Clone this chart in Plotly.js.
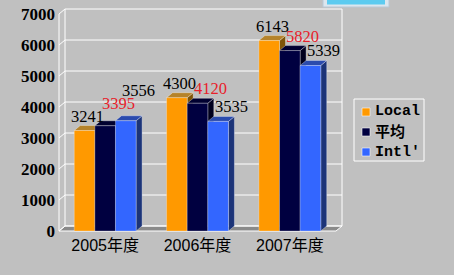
<!DOCTYPE html>
<html>
<head>
<meta charset="utf-8">
<script src="https://cdn.plot.ly/plotly-3.0.1.min.js"></script>
<style>html,body{margin:0;padding:0;background:#c0c0c0;}#chart{width:454px;height:275px;}</style>
</head>
<body>
<div id="chart"></div>
<script>
// ---- data ----
const categories = ['2005年度', '2006年度', '2007年度'];
const seriesNames = ['Local', '平均', "Intl'"];
const localValues = [3241, 4300, 6143];
const avgValues = [3395, 4120, 5820];
const intlValues = [3556, 3535, 5339];
const yTicks = [0, 1000, 2000, 3000, 4000, 5000, 6000, 7000];

// ---- styling ----
const seriesValues = [localValues, avgValues, intlValues];
const frontColors = ['#FF9900', '#000040', '#3366FF'];
const topColors = ['#B5832A', '#000030', '#2B4BAE'];
const sideColors = ['#7E5406', '#00001E', '#1C3478'];
const labelColors = ['#000000', '#E8202A', '#000000'];
const labelXShift = [3, 13, 13];

// geometry (pixels)
const W = 454, H = 275;
const frontL = 59, frontR = 336, frontTop = 14, frontBase = 231;
const depthX = 6, depthY = 5;
const plotL = 56, plotR = 345, plotT = 4, plotB = 234;
const yTop = yTicks[yTicks.length - 1];
const yPerPx = yTop / (frontBase - frontTop);
const nCat = categories.length;
const xPerPx = nCat / (frontR - frontL);
const xRange = [-0.5 - (frontL - plotL) * xPerPx, nCat - 0.5 + (plotR - frontR) * xPerPx];
const yRange = [-(plotB - frontBase) * yPerPx, (frontBase - plotT) * yPerPx];
const dxU = depthX * xPerPx, dyU = depthY * yPerPx;
const bargap = 0.33;
const barW = (1 - bargap) / seriesValues.length;
const px2pX = p => (p - plotL) / (plotR - plotL);
const px2pY = p => (plotB - p) / (plotB - plotT);

const traces = seriesValues.map((vals, s) => ({
  type: 'bar',
  name: seriesNames[s],
  x: categories.map((c, i) => i),
  y: vals,
  marker: {color: frontColors[s], line: {color: 'rgba(255,255,255,0.45)', width: 0.6}},
  hoverinfo: 'none',
  showlegend: false
}));

const shapes = [];
const wl = {color: '#FFFFFF', width: 1};
const xL0 = -0.5, xR0 = nCat - 0.5;
// floor
shapes.push({type: 'path', layer: 'below', xref: 'x', yref: 'y',
  path: `M${xL0},0 L${xR0},0 L${xR0 + dxU},${dyU} L${xL0 + dxU},${dyU} Z`,
  fillcolor: '#8A8A8A', line: wl});
// back wall grid + diagonal ticks
yTicks.forEach(t => {
  shapes.push({type: 'line', layer: 'below', xref: 'x', yref: 'y',
    x0: xL0 + dxU, x1: xR0 + dxU, y0: t + dyU, y1: t + dyU, line: wl});
  shapes.push({type: 'line', layer: 'below', xref: 'x', yref: 'y',
    x0: xL0, x1: xL0 + dxU, y0: t, y1: t + dyU, line: wl});
});
shapes.push({type: 'line', layer: 'below', xref: 'x', yref: 'y', x0: xL0 + dxU, x1: xL0 + dxU, y0: dyU, y1: yTop + dyU, line: wl});
shapes.push({type: 'line', layer: 'below', xref: 'x', yref: 'y', x0: xR0 + dxU, x1: xR0 + dxU, y0: dyU, y1: yTop + dyU, line: wl});
shapes.push({type: 'line', layer: 'below', xref: 'x', yref: 'y', x0: xL0, x1: xL0, y0: 0, y1: yTop, line: wl});

// 3D bar faces
const faceLine = {color: 'rgba(255,255,255,0.55)', width: 0.6};
seriesValues.forEach((vals, s) => {
  vals.forEach((v, i) => {
    const x0 = i + (s - 1) * barW - barW / 2;
    const x1 = x0 + barW;
    shapes.push({type: 'path', layer: 'below', xref: 'x', yref: 'y',
      path: `M${x1},0 L${x1},${v} L${x1 + dxU},${v + dyU} L${x1 + dxU},${dyU} Z`,
      fillcolor: sideColors[s], line: faceLine});
    shapes.push({type: 'path', layer: 'below', xref: 'x', yref: 'y',
      path: `M${x0},${v} L${x1},${v} L${x1 + dxU},${v + dyU} L${x0 + dxU},${v + dyU} Z`,
      fillcolor: topColors[s], line: faceLine});
  });
});

// value labels (lifted when a taller neighbour's label would collide)
const annotations = [];
const baseLift = 14.5, minSep = 13, digitW = 8.5;
categories.forEach((c, i) => {
  let prev = null;
  seriesValues.forEach((vals, s) => {
    const v = vals[i];
    const vPx = v / yPerPx;
    const cx = (i + (s - 1) * barW) / xPerPx + labelXShift[s];
    const w = String(v).length * digitW;
    let ly = vPx + baseLift;
    if (prev && v > prev.v && Math.abs(cx - prev.cx) < (w + prev.w) / 2) {
      ly = Math.max(ly, prev.ly + minSep);
    }
    annotations.push({x: i + (s - 1) * barW, y: v, xref: 'x', yref: 'y',
      text: String(v), showarrow: false, xanchor: 'center', yanchor: 'middle',
      xshift: labelXShift[s], yshift: ly - vPx,
      font: {family: 'Liberation Serif, serif', size: 16.5, color: labelColors[s]}});
    prev = {v, cx, w, ly};
  });
});

// legend (drawn manually)
const legL = 354, legR = 424, legT = 99, legB = 161;
shapes.push({type: 'rect', xref: 'paper', yref: 'paper',
  x0: px2pX(legL), x1: px2pX(legR), y0: px2pY(legB), y1: px2pY(legT),
  fillcolor: 'rgba(0,0,0,0)', line: {color: '#FFFFFF', width: 1}});
const legRows = [112, 132, 152];
seriesNames.forEach((n, s) => {
  const cy = legRows[s];
  shapes.push({type: 'rect', xref: 'paper', yref: 'paper',
    x0: px2pX(362), x1: px2pX(370), y0: px2pY(cy + 4), y1: px2pY(cy - 4),
    fillcolor: frontColors[s], line: {color: 'rgba(255,255,255,0.7)', width: 0.8}});
  annotations.push({x: px2pX(373), y: px2pY(cy), xref: 'paper', yref: 'paper',
    text: n, showarrow: false, xanchor: 'left', yanchor: 'middle',
    font: {family: 'Liberation Mono, Noto Sans CJK SC, monospace', size: 15, color: '#000000', weight: 'bold'}});
});

// window button fragment at the top
shapes.push({type: 'rect', xref: 'paper', yref: 'paper',
  x0: px2pX(323), x1: px2pX(389), y0: px2pY(7), y1: px2pY(-4),
  fillcolor: '#DCE6EE', line: {color: '#B8C8D6', width: 1}});
shapes.push({type: 'rect', xref: 'paper', yref: 'paper',
  x0: px2pX(327), x1: px2pX(385), y0: px2pY(4.5), y1: px2pY(-4),
  fillcolor: '#5CCBF0', line: {width: 0}});

const layout = {
  width: W, height: H,
  margin: {l: plotL, r: W - plotR, t: plotT, b: H - plotB, pad: 0},
  paper_bgcolor: '#C0C0C0', plot_bgcolor: 'rgba(0,0,0,0)',
  barmode: 'group', bargap: bargap, bargroupgap: 0,
  showlegend: false,
  xaxis: {type: 'linear', range: xRange, tickvals: categories.map((c, i) => i), ticktext: categories,
    showgrid: false, zeroline: false, showline: false, ticks: '',
    tickfont: {family: 'Liberation Sans, Noto Sans CJK SC, sans-serif', size: 16, color: '#000000'}},
  yaxis: {range: yRange, tickvals: yTicks, ticktext: yTicks.map(String),
    showgrid: false, zeroline: false, showline: false, ticks: '',
    tickfont: {family: 'Liberation Serif, serif', size: 17, color: '#000000', weight: 'bold'}},
  shapes: shapes,
  annotations: annotations
};

Plotly.newPlot('chart', traces, layout, {staticPlot: true, displayModeBar: false});
</script>
</body>
</html>
